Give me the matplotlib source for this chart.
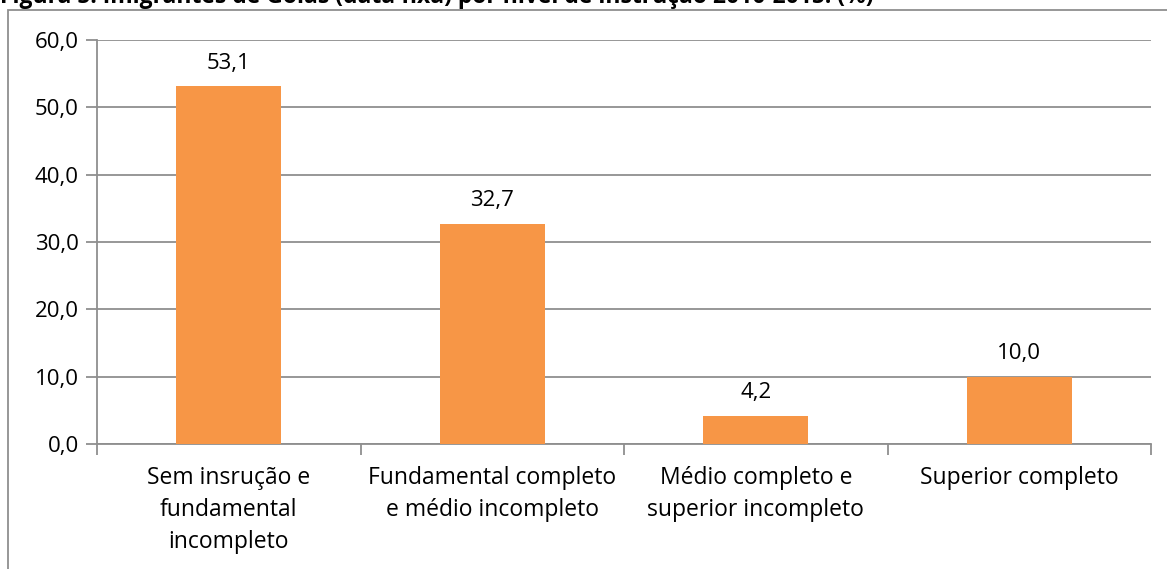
import matplotlib.pyplot as plt
from matplotlib.patches import Rectangle

plt.rcParams['font.family'] = ['Open Sans', 'DejaVu Sans']

# dados
categorias = ['Sem insrução e\nfundamental\nincompleto',
              'Fundamental completo\ne médio incompleto',
              'Médio completo e\nsuperior incompleto',
              'Superior completo']
valores = [53.1, 32.7, 4.2, 10.0]
yticks = [0, 10, 20, 30, 40, 50, 60]

W, H = 1167, 569
fig = plt.figure(figsize=(W / 100, H / 100), dpi=100)
cinza = '#8f8f8f'

# moldura externa do gráfico
fig.patches.append(Rectangle((8 / W, -0.2), 1.2, 1.2 - 10 / H,
                             transform=fig.transFigure, fill=False,
                             edgecolor=cinza, linewidth=1.3))

fig.text(0.0, 1 - 3 / H,
         'Figura 5: Imigrantes de Goiás (data fixa) por nível de instrução 2010-2015: (%)',
         fontsize=16.5, fontweight='bold', va='baseline', ha='left')

ax = fig.add_axes([97 / W, 1 - 444 / H, (1151 - 97) / W, (444 - 40) / H])

x = range(len(valores))
ax.bar(x, valores, width=0.4, color='#F79646', zorder=3)
for i, v in enumerate(valores):
    ax.annotate(f'{v:.1f}'.replace('.', ','), (i, v), xytext=(0, 9),
                textcoords='offset points', ha='center', va='bottom',
                fontsize=16)

ax.set_xlim(-0.5, 3.5)
ax.set_ylim(0, 60)
ax.set_yticks(yticks)
ax.set_yticklabels([f'{t:.1f}'.replace('.', ',') for t in yticks], fontsize=16)
ax.yaxis.grid(True, color=cinza, linewidth=1.3, zorder=0)
ax.tick_params(axis='y', length=8, width=1.3, color=cinza, pad=5)

ax.set_xticks([-0.5, 0.5, 1.5, 2.5, 3.5])
ax.set_xticklabels([])
ax.set_xticks(list(x), minor=True)
ax.set_xticklabels(categorias, minor=True, fontsize=16.5, linespacing=1.45)
ax.tick_params(axis='x', which='major', length=8, width=1.3, color=cinza)
ax.tick_params(axis='x', which='minor', length=0, pad=16)

for s in ['top', 'right']:
    ax.spines[s].set_visible(False)
for s in ['left', 'bottom']:
    ax.spines[s].set_color(cinza)
    ax.spines[s].set_linewidth(1.3)

fig.savefig('out.png', dpi=100)
